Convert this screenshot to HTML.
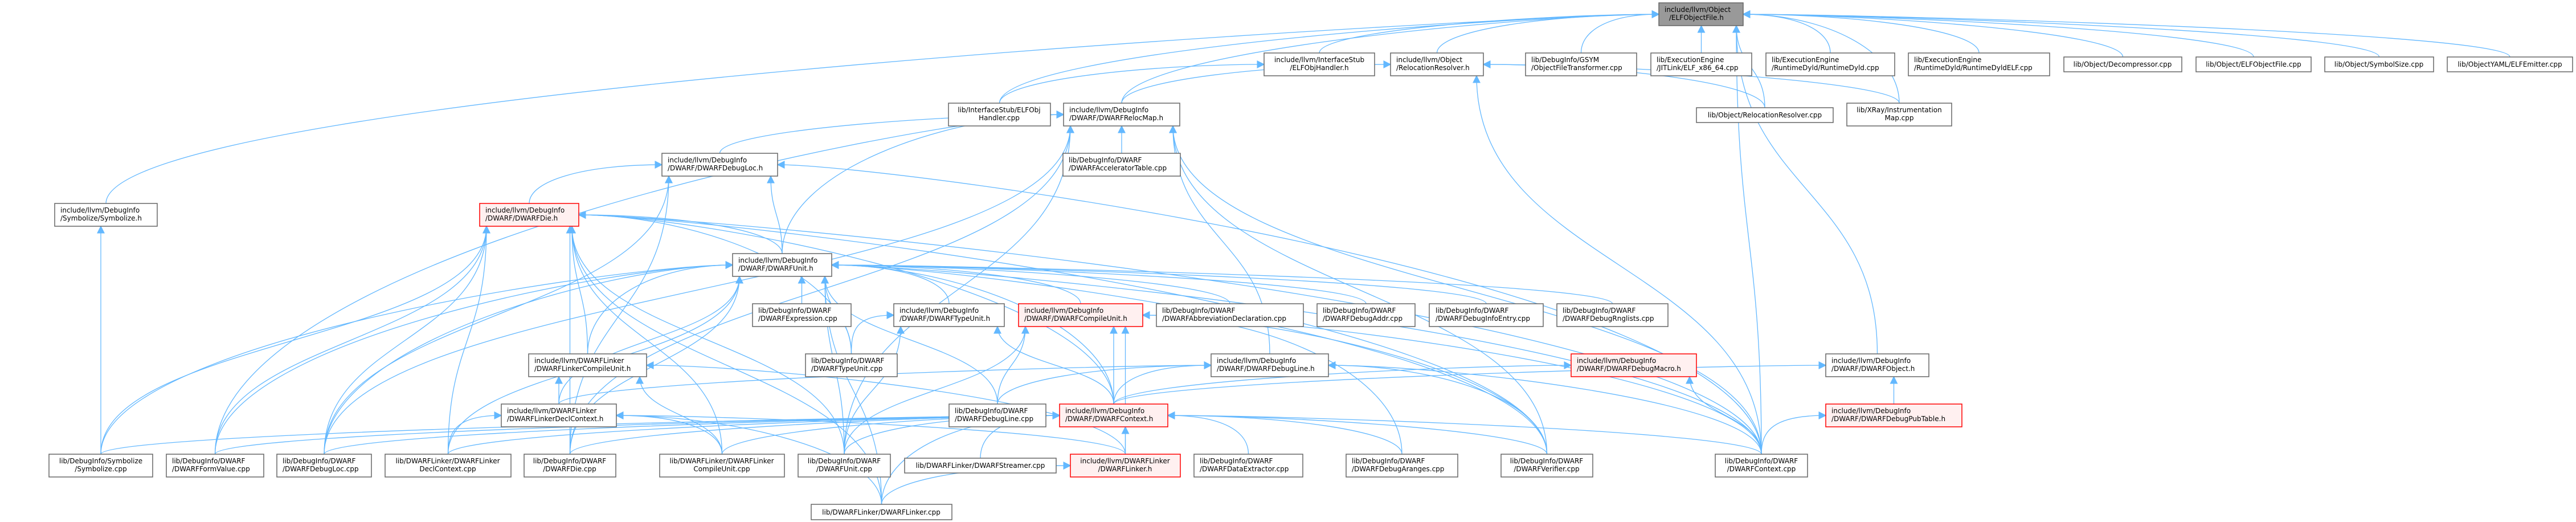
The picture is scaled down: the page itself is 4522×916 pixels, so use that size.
<!DOCTYPE html>
<html><head><meta charset="utf-8"><style>
html,body{margin:0;padding:0;background:#fff;width:4522px;height:916px;overflow:hidden}
svg{display:block}
text{font-family:"DejaVu Sans","Liberation Sans",sans-serif;font-size:12px;fill:#000}
.n rect{fill:#fff;stroke:#666;stroke-width:1.5}
.r rect{fill:#fff0f0;stroke:#f00;stroke-width:1.5}
.g rect{fill:#999;stroke:#666;stroke-width:1.5}
</style></head><body>
<svg id="s" width="4522" height="916" viewBox="0 0 4522 916" xmlns="http://www.w3.org/2000/svg">
<defs><marker id="a" viewBox="0 0 10 10" refX="9" refY="5" markerWidth="14" markerHeight="14" markerUnits="userSpaceOnUse" orient="auto"><path d="M0,0 L10,5 L0,10 z" fill="#63b8ff"/></marker></defs>
<g id="edges" fill="none" stroke="#63b8ff" stroke-width="1.3"></g>
<g id="nodes">
<g class="g"><rect x="2912" y="5" width="148" height="40"/><text x="2922" y="21">include/llvm/Object</text><text x="2930" y="35">/ELFObjectFile.h</text></g>

<g class="n"><rect x="2219" y="93" width="194" height="40"/><text x="2316" y="109" text-anchor="middle">include/llvm/InterfaceStub</text><text x="2316" y="123" text-anchor="middle">/ELFObjHandler.h</text></g>
<g class="n"><rect x="2441" y="93" width="163" height="40"/><text x="2451" y="109">include/llvm/Object</text><text x="2451" y="123">/RelocationResolver.h</text></g>
<g class="n"><rect x="2678" y="93" width="195" height="40"/><text x="2688" y="109">lib/DebugInfo/GSYM</text><text x="2688" y="123">/ObjectFileTransformer.cpp</text></g>
<g class="n"><rect x="2898" y="93" width="177" height="40"/><text x="2908" y="109">lib/ExecutionEngine</text><text x="2908" y="123">/JITLink/ELF_x86_64.cpp</text></g>
<g class="n"><rect x="3100" y="93" width="226" height="40"/><text x="3110" y="109">lib/ExecutionEngine</text><text x="3110" y="123">/RuntimeDyld/RuntimeDyld.cpp</text></g>
<g class="n"><rect x="3350" y="93" width="248" height="40"/><text x="3360" y="109">lib/ExecutionEngine</text><text x="3360" y="123">/RuntimeDyld/RuntimeDyldELF.cpp</text></g>
<g class="n"><rect x="3623" y="100" width="207" height="26"/><text x="3726" y="117" text-anchor="middle">lib/Object/Decompressor.cpp</text></g>
<g class="n"><rect x="3855" y="100" width="202" height="26"/><text x="3956" y="117" text-anchor="middle">lib/Object/ELFObjectFile.cpp</text></g>
<g class="n"><rect x="4081" y="100" width="191" height="26"/><text x="4176" y="117" text-anchor="middle">lib/Object/SymbolSize.cpp</text></g>
<g class="n"><rect x="4296" y="100" width="220" height="26"/><text x="4406" y="117" text-anchor="middle">lib/ObjectYAML/ELFEmitter.cpp</text></g>

<g class="n"><rect x="1665" y="181" width="179" height="40"/><text x="1754" y="197" text-anchor="middle">lib/InterfaceStub/ELFObj</text><text x="1754" y="211" text-anchor="middle">Handler.cpp</text></g>
<g class="n"><rect x="1867" y="181" width="204" height="40"/><text x="1877" y="197">include/llvm/DebugInfo</text><text x="1877" y="211">/DWARF/DWARFRelocMap.h</text></g>
<g class="n"><rect x="2978" y="189" width="240" height="26"/><text x="3098" y="206" text-anchor="middle">lib/Object/RelocationResolver.cpp</text></g>
<g class="n"><rect x="3242" y="181" width="184" height="40"/><text x="3334" y="197" text-anchor="middle">lib/XRay/Instrumentation</text><text x="3334" y="211" text-anchor="middle">Map.cpp</text></g>

<g class="n"><rect x="1162" y="269" width="203" height="40"/><text x="1172" y="285">include/llvm/DebugInfo</text><text x="1172" y="299">/DWARF/DWARFDebugLoc.h</text></g>
<g class="n"><rect x="1866" y="269" width="206" height="40"/><text x="1876" y="285">lib/DebugInfo/DWARF</text><text x="1876" y="299">/DWARFAcceleratorTable.cpp</text></g>

<g class="n"><rect x="96" y="357" width="180" height="40"/><text x="106" y="373">include/llvm/DebugInfo</text><text x="106" y="387">/Symbolize/Symbolize.h</text></g>
<g class="r"><rect x="842" y="357" width="174" height="40"/><text x="852" y="373">include/llvm/DebugInfo</text><text x="852" y="387">/DWARF/DWARFDie.h</text></g>

<g class="n"><rect x="1286" y="445" width="174" height="40"/><text x="1296" y="461">include/llvm/DebugInfo</text><text x="1296" y="475">/DWARF/DWARFUnit.h</text></g>

<g class="n"><rect x="1321" y="533" width="173" height="40"/><text x="1331" y="549">lib/DebugInfo/DWARF</text><text x="1331" y="563">/DWARFExpression.cpp</text></g>
<g class="n"><rect x="1569" y="533" width="194" height="40"/><text x="1579" y="549">include/llvm/DebugInfo</text><text x="1579" y="563">/DWARF/DWARFTypeUnit.h</text></g>
<g class="r"><rect x="1788" y="533" width="218" height="40"/><text x="1798" y="549">include/llvm/DebugInfo</text><text x="1798" y="563">/DWARF/DWARFCompileUnit.h</text></g>
<g class="n"><rect x="2030" y="533" width="258" height="40"/><text x="2040" y="549">lib/DebugInfo/DWARF</text><text x="2040" y="563">/DWARFAbbreviationDeclaration.cpp</text></g>
<g class="n"><rect x="2312" y="533" width="172" height="40"/><text x="2322" y="549">lib/DebugInfo/DWARF</text><text x="2322" y="563">/DWARFDebugAddr.cpp</text></g>
<g class="n"><rect x="2509" y="533" width="200" height="40"/><text x="2520" y="549">lib/DebugInfo/DWARF</text><text x="2520" y="563">/DWARFDebugInfoEntry.cpp</text></g>
<g class="n"><rect x="2733" y="533" width="195" height="40"/><text x="2743" y="549">lib/DebugInfo/DWARF</text><text x="2743" y="563">/DWARFDebugRnglists.cpp</text></g>

<g class="n"><rect x="928" y="621" width="207" height="40"/><text x="938" y="637">include/llvm/DWARFLinker</text><text x="938" y="651">/DWARFLinkerCompileUnit.h</text></g>
<g class="n"><rect x="1414" y="621" width="161" height="40"/><text x="1424" y="637">lib/DebugInfo/DWARF</text><text x="1424" y="651">/DWARFTypeUnit.cpp</text></g>
<g class="n"><rect x="2126" y="621" width="206" height="40"/><text x="2136" y="637">include/llvm/DebugInfo</text><text x="2136" y="651">/DWARF/DWARFDebugLine.h</text></g>
<g class="r"><rect x="2758" y="621" width="220" height="40"/><text x="2768" y="637">include/llvm/DebugInfo</text><text x="2768" y="651">/DWARF/DWARFDebugMacro.h</text></g>
<g class="n"><rect x="3205" y="621" width="181" height="40"/><text x="3215" y="637">include/llvm/DebugInfo</text><text x="3215" y="651">/DWARF/DWARFObject.h</text></g>

<g class="n"><rect x="880" y="709" width="202" height="40"/><text x="890" y="725">include/llvm/DWARFLinker</text><text x="890" y="739">/DWARFLinkerDeclContext.h</text></g>
<g class="n"><rect x="1666" y="709" width="170" height="40"/><text x="1676" y="725">lib/DebugInfo/DWARF</text><text x="1676" y="739">/DWARFDebugLine.cpp</text></g>
<g class="r"><rect x="1860" y="709" width="190" height="40"/><text x="1870" y="725">include/llvm/DebugInfo</text><text x="1870" y="739">/DWARF/DWARFContext.h</text></g>
<g class="r"><rect x="3205" y="709" width="239" height="40"/><text x="3215" y="725">include/llvm/DebugInfo</text><text x="3215" y="739">/DWARF/DWARFDebugPubTable.h</text></g>

<g class="n"><rect x="86" y="797" width="182" height="40"/><text x="177" y="813" text-anchor="middle">lib/DebugInfo/Symbolize</text><text x="177" y="827" text-anchor="middle">/Symbolize.cpp</text></g>
<g class="n"><rect x="292" y="797" width="171" height="40"/><text x="302" y="813">lib/DebugInfo/DWARF</text><text x="302" y="827">/DWARFFormValue.cpp</text></g>
<g class="n"><rect x="486" y="797" width="166" height="40"/><text x="496" y="813">lib/DebugInfo/DWARF</text><text x="496" y="827">/DWARFDebugLoc.cpp</text></g>
<g class="n"><rect x="676" y="797" width="221" height="40"/><text x="786" y="813" text-anchor="middle">lib/DWARFLinker/DWARFLinker</text><text x="786" y="827" text-anchor="middle">DeclContext.cpp</text></g>
<g class="n"><rect x="920" y="797" width="161" height="40"/><text x="1000" y="813" text-anchor="middle">lib/DebugInfo/DWARF</text><text x="1000" y="827" text-anchor="middle">/DWARFDie.cpp</text></g>
<g class="n"><rect x="1158" y="797" width="219" height="40"/><text x="1267" y="813" text-anchor="middle">lib/DWARFLinker/DWARFLinker</text><text x="1267" y="827" text-anchor="middle">CompileUnit.cpp</text></g>
<g class="n"><rect x="1401" y="797" width="162" height="40"/><text x="1482" y="813" text-anchor="middle">lib/DebugInfo/DWARF</text><text x="1482" y="827" text-anchor="middle">/DWARFUnit.cpp</text></g>
<g class="n"><rect x="1588" y="804" width="266" height="26"/><text x="1721" y="821" text-anchor="middle">lib/DWARFLinker/DWARFStreamer.cpp</text></g>
<g class="r"><rect x="1879" y="797" width="193" height="40"/><text x="1975" y="813" text-anchor="middle">include/llvm/DWARFLinker</text><text x="1975" y="827" text-anchor="middle">/DWARFLinker.h</text></g>
<g class="n"><rect x="2096" y="797" width="191" height="40"/><text x="2106" y="813">lib/DebugInfo/DWARF</text><text x="2106" y="827">/DWARFDataExtractor.cpp</text></g>
<g class="n"><rect x="2363" y="797" width="196" height="40"/><text x="2373" y="813">lib/DebugInfo/DWARF</text><text x="2373" y="827">/DWARFDebugAranges.cpp</text></g>
<g class="n"><rect x="2635" y="797" width="161" height="40"/><text x="2715" y="813" text-anchor="middle">lib/DebugInfo/DWARF</text><text x="2715" y="827" text-anchor="middle">/DWARFVerifier.cpp</text></g>
<g class="n"><rect x="3011" y="797" width="162" height="40"/><text x="3092" y="813" text-anchor="middle">lib/DebugInfo/DWARF</text><text x="3092" y="827" text-anchor="middle">/DWARFContext.cpp</text></g>

<g class="n"><rect x="1424" y="885" width="247" height="27"/><text x="1547" y="903" text-anchor="middle">lib/DWARFLinker/DWARFLinker.cpp</text></g>
</g>
</svg>
<script>
var N={
E:[2912,5,148,40],OH:[2219,93,194,40],RRH:[2441,93,163,40],GS:[2678,93,195,40],JIT:[2898,93,177,40],RD:[3100,93,226,40],RDE:[3350,93,248,40],DEC:[3623,100,207,26],EOF:[3855,100,202,26],SS:[4081,100,191,26],EM:[4296,100,220,26],
OHC:[1665,181,179,40],RM:[1867,181,204,40],RRC:[2978,189,240,26],XR:[3242,181,184,40],
DLH:[1162,269,203,40],AT:[1866,269,206,40],SYH:[96,357,180,40],DIE:[842,357,174,40],U:[1286,445,174,40],
EXP:[1321,533,173,40],TUH:[1569,533,194,40],CUH:[1788,533,218,40],AB:[2030,533,258,40],ADDR:[2312,533,172,40],IE:[2509,533,200,40],RNG:[2733,533,195,40],
LCUH:[928,621,207,40],TUC:[1414,621,161,40],DLNH:[2126,621,206,40],MAC:[2758,621,220,40],OBJ:[3205,621,181,40],
DCH:[880,709,202,40],DLNC:[1666,709,170,40],CTX:[1860,709,190,40],PUB:[3205,709,239,40],
SYC:[86,797,182,40],FV:[292,797,171,40],DLC:[486,797,166,40],DCC:[676,797,221,40],DIEC:[920,797,161,40],LCUC:[1158,797,219,40],UC:[1401,797,162,40],STR:[1588,804,266,26],LH:[1879,797,193,40],DX:[2096,797,191,40],AR:[2363,797,196,40],VER:[2635,797,161,40],CTXC:[3011,797,162,40],LC:[1424,885,247,27]};
var E=[
['OH','E'],['RRH','E'],['GS','E'],['JIT','E'],['RD','E'],['RDE','E'],['DEC','E'],['EOF','E'],['SS','E'],['EM','E'],['OHC','E'],['RRC','E'],['XR','E'],['SYH','E'],['RM','E'],['CTXC','E'],['OBJ','E'],
['OHC','OH'],['RM','RRH'],['RRC','RRH'],['XR','RRH'],['CTXC','RRH'],
['AT','RM'],['DLH','RM'],['U','RM'],['DLNH','RM'],['CTXC','RM'],['DIEC','RM'],['FV','RM'],['DLC','RM'],['UC','RM'],['VER','RM'],
['DIE','DLH'],['U','DLH'],['DLC','DLH'],['DIEC','DLH'],['CTXC','DLH'],
['U','DIE'],['SYC','DIE'],['FV','DIE'],['DLC','DIE'],['DCC','DIE'],['DIEC','DIE'],['LCUC','DIE'],['UC','DIE'],['LC','DIE'],['CTX','DIE'],['VER','DIE'],['CTXC','DIE'],['LCUH','DIE'],['TUC','DIE'],
['EXP','U'],['TUH','U'],['CUH','U'],['AB','U'],['ADDR','U'],['IE','U'],['RNG','U'],['LCUH','U'],['TUC','U'],['CTX','U'],['DIEC','U'],['FV','U'],['DLC','U'],['SYC','U'],['DCC','U'],['UC','U'],['VER','U'],['CTXC','U'],['LC','U'],['DLNC','U'],['DCH','U'],
['TUC','TUH'],['UC','TUH'],['CTX','TUH'],
['CTX','CUH'],['LH','CUH'],['VER','CUH'],['UC','CUH'],['DLNC','CUH'],['CTXC','CUH'],['AR','CUH'],
['CTX','DLNH'],['DLNC','DLNH'],['VER','DLNH'],['CTXC','DLNH'],['DCH','DLNH'],
['CTX','MAC'],['CTXC','MAC'],['CTX','OBJ'],['PUB','OBJ'],['CTXC','PUB'],
['LH','CTX'],['DX','CTX'],['AR','CTX'],['VER','CTX'],['CTXC','CTX'],['STR','CTX'],['SYC','CTX'],['FV','CTX'],['DLC','CTX'],['DCC','CTX'],['DIEC','CTX'],['LCUC','CTX'],['UC','CTX'],['DLNC','CTX'],['LC','CTX'],
['DCH','LCUH'],['LCUC','LCUH'],['LH','LCUH'],
['DCC','DCH'],['LCUC','DCH'],['LC','DCH'],['LH','DCH'],
['LC','LH'],['STR','LH'],['SYC','SYH']];
var g=document.getElementById('edges'),ns='http://www.w3.org/2000/svg';
E.forEach(function(e){var c=N[e[0]],p=N[e[1]];
var sx=c[0]+c[2]/2,sy=c[1],ex,ey,d;
var pcx=p[0]+p[2]/2,pby=p[1]+p[3],dy=sy-pby;
var dx=Math.abs(sx-pcx);
if(dy>0 && dx<dy*2.5){ex=Math.max(p[0]+12,Math.min(p[0]+p[2]-12,sx));ey=pby;
var m=dy*0.5;d='M'+sx+','+sy+' C'+sx+','+(sy-m)+' '+ex+','+(ey+m)+' '+ex+','+ey;}
else{var right=sx>pcx;ex=right?p[0]+p[2]:p[0];ey=p[1]+p[3]/2;if(dy<=0){sy=c[1]+c[3]/2;sx=right?c[0]:c[0]+c[2];}
var k=Math.min(200,dx*0.4);d='M'+sx+','+sy+' C'+sx+','+(sy-Math.max(0,(sy-ey)*0.6))+' '+(ex+(right?k:-k))+','+ey+' '+ex+','+ey;}
var pa=document.createElementNS(ns,'path');pa.setAttribute('d',d);pa.setAttribute('marker-end','url(#a)');g.appendChild(pa);});
</script>
</body></html>
